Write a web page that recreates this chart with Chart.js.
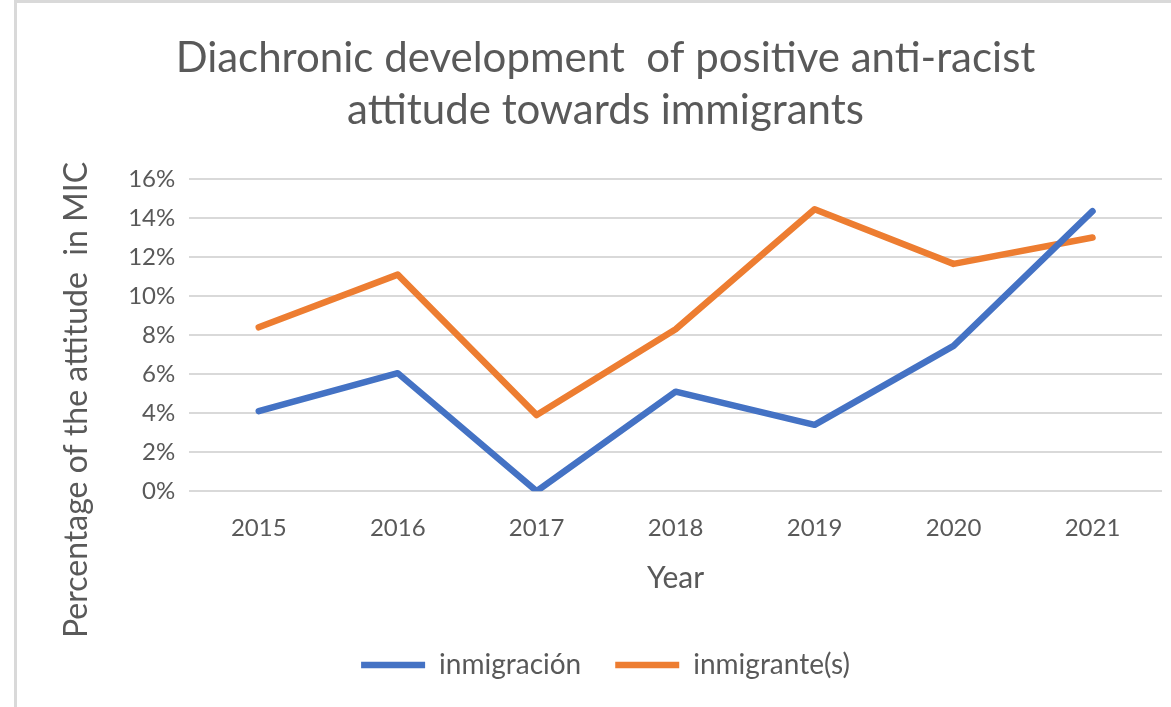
<!DOCTYPE html>
<html>
<script src="https://cdn.jsdelivr.net/npm/chart.js@4.4.1/dist/chart.umd.min.js"></script>
<style>
  html, body { margin: 0; padding: 0; background: #fff; }
  #frame {
    position: absolute; left: 14px; top: 0;
    width: 1157px; height: 707px;
    border-top: 3px solid #d9d9d9; border-left: 3px solid #d9d9d9;
    box-sizing: border-box;
  }
  #wrap { position: absolute; left: 0; top: 0; width: 1154px; height: 704px; }
</style>
<body>

<div id="frame"><div id="wrap"><canvas id="myChart"></canvas></div></div>

<script>

const years = ["2015", "2016", "2017", "2018", "2019", "2020", "2021"];
const inmigracion = [4.1, 6.05, 0, 5.1, 3.4, 7.45, 14.35];
const inmigrantes = [8.4, 11.1, 3.9, 8.3, 14.45, 11.65, 13.0];
const yTicks = [0, 2, 4, 6, 8, 10, 12, 14, 16];

const grey = "#595959";
const fam = "Lato, 'Open Sans', sans-serif";
const yTitleText = "Percentage of the attitude  in MIC";

// the y title is drawn by hand so it can sit lower than the plot centre
const yTitlePlugin = {
  id: "yTitle",
  afterDraw(chart) {
    const ctx = chart.ctx;
    const ys = chart.scales.y;
    const xs = chart.scales.x;
    const cy = (chart.chartArea.top + xs.bottom) / 2 + 2;
    ctx.save();
    ctx.font = "32px " + fam;
    ctx.fillStyle = grey;
    ctx.textAlign = "center";
    ctx.textBaseline = "middle";
    ctx.translate(ys.left + 28, cy);
    ctx.rotate(-Math.PI / 2);
    ctx.fillText(yTitleText, 0, 0);
    ctx.restore();
  }
};

const myChart = new Chart("myChart", {
  type: "line",
  data: {
    labels: years,
    datasets: [{
      label: "inmigración",
      data: inmigracion,
      borderColor: "#4472C4",
      backgroundColor: "#4472C4",
      borderWidth: 6.5,
      borderCapStyle: "round",
      borderJoinStyle: "round",
      pointRadius: 0,
      tension: 0
    }, {
      label: "inmigrante(s)",
      data: inmigrantes,
      borderColor: "#ED7D31",
      backgroundColor: "#ED7D31",
      borderWidth: 6.5,
      borderCapStyle: "round",
      borderJoinStyle: "round",
      pointRadius: 0,
      tension: 0
    }]
  },
  plugins: [yTitlePlugin],
  options: {
    responsive: true,
    maintainAspectRatio: false,
    animation: false,
    layout: { padding: { left: 32, right: 9, top: 0, bottom: 18 } },
    plugins: {
      title: {
        display: true,
        text: ["Diachronic development  of positive anti-racist", "attitude towards immigrants"],
        color: grey,
        font: { family: fam, size: 42, weight: "normal", lineHeight: 1.238 },
        padding: { top: 29, bottom: 43 }
      },
      legend: {
        position: "bottom",
        labels: {
          usePointStyle: true,
          pointStyle: "line",
          pointStyleWidth: 64,
          color: grey,
          font: { family: fam, size: 28 },
          padding: 34
        }
      },
      tooltip: { enabled: false }
    },
    scales: {
      x: {
        offset: true,
        grid: { display: false, drawTicks: false },
        border: { display: false },
        ticks: { color: grey, font: { family: fam, size: 24 }, padding: 23 },
        title: {
          display: true, text: "Year", color: grey,
          font: { family: fam, size: 30, lineHeight: 1 }, padding: { top: -3, bottom: 24 }
        }
      },
      y: {
        min: 0,
        max: 16,
        afterBuildTicks(axis) { axis.ticks = yTicks.map(v => ({ value: v })); },
        grid: { color: "#d9d9d9", lineWidth: 2, drawTicks: false },
        border: { display: false },
        ticks: {
          color: grey, font: { family: fam, size: 24 }, padding: 14,
          callback: v => v + "%"
        },
        title: {
          display: true, text: yTitleText, color: "transparent",
          font: { family: fam, size: 31 }, padding: { top: 0, bottom: 28 }
        }
      }
    }
  }
});

</script>

</body>
</html>
